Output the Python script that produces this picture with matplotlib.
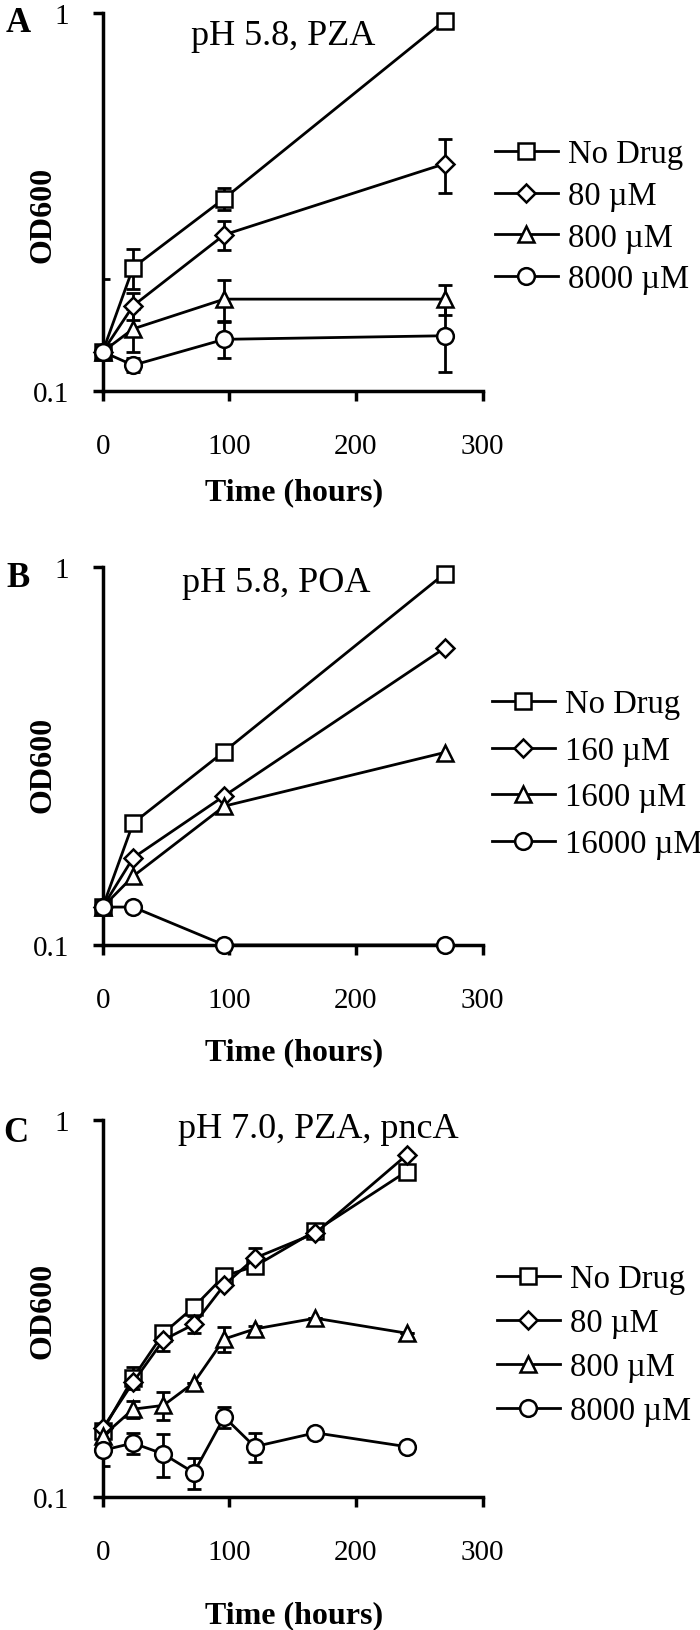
import matplotlib
matplotlib.use("Agg")
import matplotlib.pyplot as plt
from matplotlib.ticker import FixedLocator, NullLocator, FixedFormatter

# ---------------- data ----------------
A_time = [0, 24, 96, 270]
A_labels = ["No Drug", "80 \u00b5M", "800 \u00b5M", "8000 \u00b5M"]
A_nodrug = [0.127, 0.212, 0.323, 0.955]
A_80 = [0.127, 0.168, 0.259, 0.399]
A_800 = [0.127, 0.146, 0.175, 0.175]
A_8000 = [0.127, 0.117, 0.137, 0.140]
A_nodrug_err = [0.071, 0.026, 0.021, 0.0]
A_80_err = [0.0, 0.014, 0.023, 0.064]
A_800_err = [0.0, 0.019, 0.022, 0.016]
A_8000_err = [0.0, 0.005, 0.015, 0.028]

B_time = [0, 24, 96, 270]
B_labels = ["No Drug", "160 \u00b5M", "1600 \u00b5M", "16000 \u00b5M"]
B_nodrug = [0.126, 0.210, 0.325, 0.960]
B_160 = [0.126, 0.170, 0.248, 0.610]
B_1600 = [0.126, 0.152, 0.233, 0.323]
B_16000 = [0.126, 0.126, 0.100, 0.100]

C_time = [0, 24, 48, 72, 96, 120, 168, 240]
C_labels = ["No Drug", "80 \u00b5M", "800 \u00b5M", "8000 \u00b5M"]
C_nodrug = [0.150, 0.207, 0.272, 0.319, 0.386, 0.409, 0.508, 0.730]
C_80 = [0.152, 0.2015, 0.261, 0.287, 0.365, 0.430, 0.501, 0.807]
C_800 = [0.145, 0.171, 0.175, 0.201, 0.2625, 0.279, 0.298, 0.272]
C_8000 = [0.133, 0.139, 0.130, 0.116, 0.163, 0.136, 0.148, 0.136]
C_nodrug_err = [0.0, 0.014, 0.0, 0.0, 0.0, 0.0, 0.0, 0.0]
C_80_err = [0.0, 0.0, 0.017, 0.015, 0.0, 0.027, 0.0, 0.0]
C_800_err = [0.0, 0.009, 0.015, 0.0, 0.020, 0.006, 0.0, 0.0]
C_8000_err = [0.012, 0.009, 0.017, 0.011, 0.0105, 0.012, 0.0, 0.0]

x_ticks = [0, 100, 200, 300]
y_ticks = [0.1, 1]
y_ticklabels = ["0.1", "1"]

# ---------------- style ----------------
plt.rcParams['font.family'] = ['Liberation Serif', 'DejaVu Serif']
W, H = 700, 1631
fig = plt.figure(figsize=(W / 100, H / 100), dpi=100)

markers = ['s', 'D', '^', 'o']
msizes = [12, 8.7, 12, 12]
LW = 2.0
MEW = 1.8
FS_TICK = 21
FS_LEG = 23.5
FS_TITLE = 26
FS_LAB = 23


def px_rect(left, top, right, bottom):
    return [left / W, 1 - bottom / H, (right - left) / W, (bottom - top) / H]


def fx(x):
    return x / W


def fy(y):
    return 1 - y / H


def panel(rect, times, series, errs, labels, letter, title, title_xy,
          letter_xy, ylab_xy, xlab_y, legend_xy, legend_sp):
    ax = fig.add_axes(rect)
    ax.set_yscale('log')
    ax.set_xlim(0, 300)
    ax.set_ylim(0.1, 1)
    handles = []
    for i, (vals, lab) in enumerate(zip(series, labels)):
        if errs is not None and errs[i] is not None:
            ax.errorbar(times, vals, yerr=errs[i], fmt='none', ecolor='black',
                        elinewidth=LW, capsize=4.7, capthick=LW, zorder=2 + i * 0.1)
        ln, = ax.plot(times, vals, color='black', lw=LW, marker=markers[i],
                      ms=msizes[i], mfc='white', mec='black', mew=MEW,
                      clip_on=False, zorder=3 + i * 0.1, label=lab)
        handles.append(ln)
    for s in ['top', 'right']:
        ax.spines[s].set_visible(False)
    for s in ['left', 'bottom']:
        ax.spines[s].set_linewidth(2.5)
    ax.xaxis.set_major_locator(FixedLocator(x_ticks))
    ax.yaxis.set_major_locator(FixedLocator(y_ticks))
    ax.yaxis.set_major_formatter(FixedFormatter(y_ticklabels))
    ax.yaxis.set_minor_locator(NullLocator())
    ax.tick_params(axis='both', direction='out', length=7, width=2.5,
                   labelsize=FS_TICK)
    ax.tick_params(axis='x', pad=23)
    ax.tick_params(axis='y', pad=17)
    fig.text(fx(title_xy[0]), fy(title_xy[1]), title, fontsize=FS_TITLE,
             ha='center', va='baseline')
    fig.text(fx(letter_xy[0]), fy(letter_xy[1]), letter, fontsize=25,
             fontweight='bold', ha='center', va='baseline')
    fig.text(fx(ylab_xy[0]), fy(ylab_xy[1]), "OD600", fontsize=FS_LAB,
             fontweight='bold', ha='center', va='center', rotation=90)
    fig.text(fx(294), fy(xlab_y), "Time (hours)", fontsize=FS_LAB,
             fontweight='bold', ha='center', va='baseline')
    fig.legend(handles=handles, labels=labels, loc='upper left',
               bbox_to_anchor=(fx(legend_xy[0]), fy(legend_xy[1])),
               bbox_transform=fig.transFigure, frameon=False, fontsize=FS_LEG,
               borderpad=0, borderaxespad=0, handlelength=1.93,
               handletextpad=0.31, labelspacing=legend_sp)
    return ax


panel(px_rect(102.7, 14, 482.5, 392), A_time, [A_nodrug, A_80, A_800, A_8000],
      [A_nodrug_err, A_80_err, A_800_err, A_8000_err], A_labels, "A",
      "pH 5.8, PZA", (283.5, 45), (18, 32), (43, 215), 500, (495, 140), 0.34)

panel(px_rect(102.7, 568, 482.5, 946), B_time, [B_nodrug, B_160, B_1600, B_16000],
      None, B_labels, "B", "pH 5.8, POA", (276, 592), (18, 587), (43, 765),
      1060, (492, 690), 0.49)

panel(px_rect(102.7, 1121, 482.5, 1498), C_time, [C_nodrug, C_80, C_800, C_8000],
      [C_nodrug_err, C_80_err, C_800_err, C_8000_err], C_labels, "C",
      "pH 7.0, PZA, pncA", (318, 1138), (16, 1142), (43, 1311), 1623,
      (497, 1265), 0.41)

fig.savefig("out.png", dpi=100)
